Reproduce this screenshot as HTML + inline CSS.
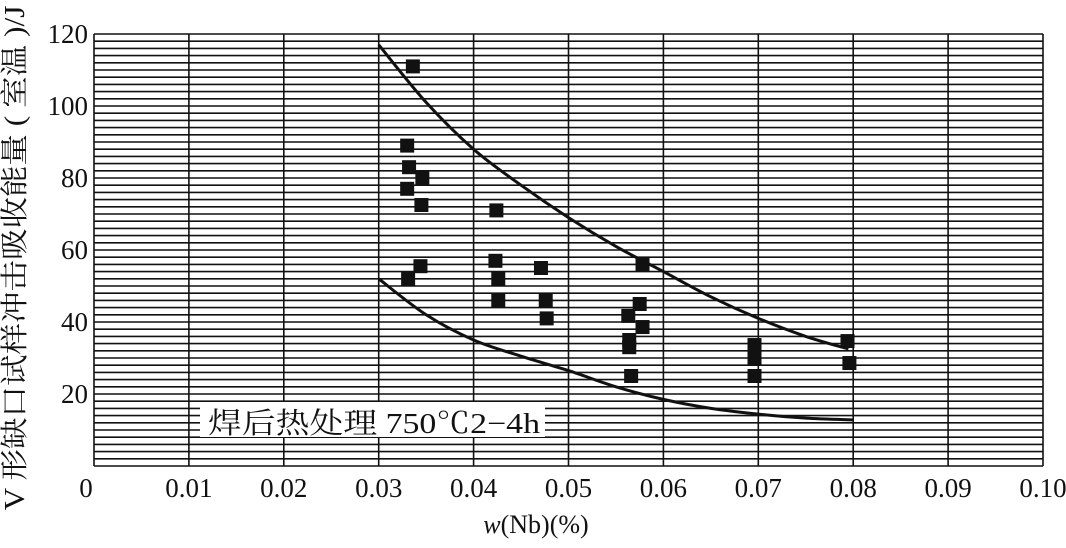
<!DOCTYPE html>
<html><head><meta charset="utf-8"><style>
body{margin:0;background:#fff;width:1066px;height:543px;overflow:hidden}
svg text{font-family:"Liberation Serif","Noto Serif CJK SC",serif;fill:#111}
</style></head><body>
<svg width="1066" height="543" xmlns="http://www.w3.org/2000/svg">
<g id="grid"></g>
<g id="curves"></g>
<g id="marks"></g>
<g id="xt"></g>
<g id="yt"></g>
<rect x="200" y="402" width="345" height="35" fill="#fff"/>
<text x="208" y="433" font-size="29" textLength="332" lengthAdjust="spacingAndGlyphs">焊后热处理 750℃2−4h</text>
<text x="536" y="533" font-size="26" text-anchor="middle"><tspan font-style="italic">w</tspan>(Nb)(%)</text>
<text transform="translate(24,258) rotate(-90)" font-size="28" text-anchor="middle" textLength="505" lengthAdjust="spacingAndGlyphs">V 形缺口试样冲击吸收能量 ( 室温 )/J</text>
</svg>
<script>
const xTicks=[0,0.01,0.02,0.03,0.04,0.05,0.06,0.07,0.08,0.09,0.10];
const xTickLabels=["0","0.01","0.02","0.03","0.04","0.05","0.06","0.07","0.08","0.09","0.10"];
const yTicks=[20,40,60,80,100,120];
const ptX=[0.0336,0.033,0.0332,0.0346,0.033,0.0345,0.0344,0.0331,0.0424,0.0423,0.0426,0.0426,0.0471,0.0476,0.0477,0.0578,0.0575,0.0578,0.0563,0.0564,0.0564,0.0566,0.0696,0.0696,0.0696,0.0794,0.0796];
const ptY=[111,89,83,80,77,72.5,55.5,52,71,57,52,46,55,46,41,56,45,38.6,41.7,35,33,25,33.6,30,25,34.7,28.6];
const upX=[0.030,0.035,0.040,0.045,0.050,0.055,0.060,0.065,0.070,0.075,0.0795];
const upY=[117,101,88,78,69,61,54,47,41,36,32.5];
const loX=[0.030,0.035,0.040,0.045,0.050,0.055,0.060,0.065,0.070,0.075,0.080];
const loY=[52,42,35,30.5,26.5,22,18.5,16,14.4,13.3,12.8];
const L=94,R=1043,T=34,B=466;
const sx=v=>L+(v-0)/0.1*(R-L);
const sy=v=>B-(v/120)*(B-T);
const NS="http://www.w3.org/2000/svg";
function mk(t,a,p){const e=document.createElementNS(NS,t);for(const k in a)e.setAttribute(k,a[k]);p.appendChild(e);return e;}
const g=document.getElementById('grid');
for(let v=0;v<=120;v+=2){const l=mk('line',{x1:L,x2:R,y1:sy(v),y2:sy(v),stroke:'#111','stroke-width':1.6},g);

}
xTicks.forEach(v=>{const l=mk('line',{x1:sx(v),x2:sx(v),y1:T,y2:B,stroke:'#111','stroke-width':1.6},g);

});
const xt=document.getElementById('xt');
xTicks.forEach((v,i)=>{const t=mk('text',{x:sx(v)+(i==0?-8:0),y:497,'font-size':27,'text-anchor':'middle'},xt);t.textContent=xTickLabels[i];

});
const yt=document.getElementById('yt');
yTicks.forEach(v=>{const t=mk('text',{x:88,y:sy(v)+9,'font-size':27,'text-anchor':'end'},yt);t.textContent=v;

});
const c=document.getElementById('curves');
function curve(xs,ys,name){const P=xs.map((x,i)=>[sx(x),sy(ys[i])]);
let d='M'+P[0][0]+','+P[0][1];
for(let i=0;i<P.length-1;i++){const p0=P[Math.max(i-1,0)],p1=P[i],p2=P[i+1],p3=P[Math.min(i+2,P.length-1)];
const c1=[p1[0]+(p2[0]-p0[0])/6,p1[1]+(p2[1]-p0[1])/6],c2=[p2[0]-(p3[0]-p1[0])/6,p2[1]-(p3[1]-p1[1])/6];
d+=' C'+c1+' '+c2+' '+p2;}
const p=mk('path',{d:d,fill:'none',stroke:'#111','stroke-width':3},c);

}
curve(upX,upY,'upper-bound-curve');
curve(loX,loY,'lower-bound-curve');
const m=document.getElementById('marks');
ptX.forEach((x,i)=>{const r=mk('rect',{x:sx(x)-7,y:sy(ptY[i])-7,width:14,height:14,fill:'#111'},m);

});
</script>
</body></html>
